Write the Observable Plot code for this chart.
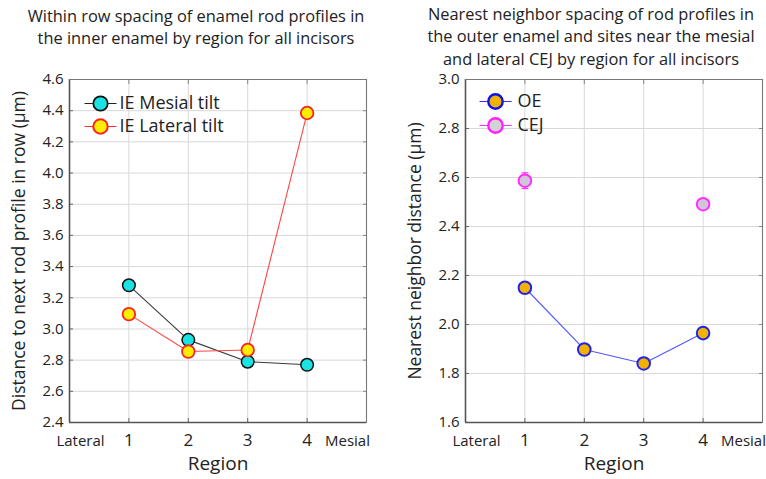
<!DOCTYPE html>
<html>
<head>
<meta charset="utf-8">
<script src="https://cdn.jsdelivr.net/npm/d3@7"></script>
<script src="https://cdn.jsdelivr.net/npm/@observablehq/plot@0.6"></script>
<style>
  body { margin: 0; background: #fff; font-family: "Open Sans", "Noto Sans", sans-serif; }
  #wrap { position: relative; width: 766px; height: 479px; overflow: hidden; }
  .title { position: absolute; text-align: center; font-size: 16.4px; line-height: 22.3px; color: #222; white-space: nowrap; }
  .panel { position: absolute; top: 0; }
</style>
</head>
<body>
<div id="wrap">
  <div class="title" id="t1" style="left:0px; width:392px; top:5px;"></div>
  <div class="title" id="t2" style="left:392px; width:398px; top:3px;"></div>
  <div class="panel" id="p1" style="left:0px;"></div>
  <div class="panel" id="p2" style="left:383px;"></div>
</div>
<script>
// ---------- data ----------
const regions = [1, 2, 3, 4];
const endLabels = ["Lateral", "Mesial"];

const ieMesialTilt  = [3.28, 2.93, 2.79, 2.77];
const ieLateralTilt = [3.095, 2.855, 2.865, 4.385];

const oeValues  = [2.15, 1.898, 1.841, 1.965];
const cejRegions = [1, 4];
const cejValues  = [2.587, 2.491];
const cejErr     = [0.032, 0.008];

const leftTicks  = [2.4, 2.6, 2.8, 3.0, 3.2, 3.4, 3.6, 3.8, 4.0, 4.2, 4.4, 4.6];
const rightTicks = [1.6, 1.8, 2.0, 2.2, 2.4, 2.6, 2.8, 3.0];

const title1 = ["Within row spacing of enamel rod profiles in", "the inner enamel by region for all incisors"];
const title2 = ["Nearest neighbor spacing of rod profiles in", "the outer enamel and sites near the mesial", "and lateral CEJ by region for all incisors"];
const yLabel1 = "Distance to next rod profile in row (\u00b5m)";
const yLabel2 = "Nearest neighbor distance (\u00b5m)";
const xLabel = "Region";
const legend1 = ["IE Mesial tilt", "IE Lateral tilt"];
const legend2 = ["OE", "CEJ"];

document.getElementById("t1").innerHTML = title1.join("<br>");
document.getElementById("t2").innerHTML = title2.join("<br>");

// ---------- helpers ----------
const hline = (half) => ({ draw(ctx) { ctx.moveTo(-half, 0); ctx.lineTo(half, 0); } });

const tableFrom = (xs, ys, name) => xs.map((x, i) => ({ region: x, value: ys[i], series: name }));

function decorations(ticks, yLab, ml) {
  return [
    Plot.gridX(regions, { stroke: "#d8d8d8", strokeOpacity: 1, strokeWidth: 1 }),
    Plot.gridY(ticks, { stroke: "#d8d8d8", strokeOpacity: 1, strokeWidth: 1 }),
    Plot.axisY(ticks, { tickSize: 0, tickPadding: 6, fontSize: 15, tickFormat: d3.format(".1f"), label: null, fill: "#222" }),
    Plot.axisY(ticks, { anchor: "left", tickSize: -4, tickFormat: () => "", label: null, stroke: "#666" }),
    Plot.axisY(ticks, { anchor: "right", tickSize: -4, tickFormat: () => "", label: null, stroke: "#888" }),
    Plot.axisX(regions, { tickSize: 0, tickPadding: 11, fontSize: 17, label: null, fill: "#222" }),
    Plot.axisX(regions, { anchor: "bottom", tickSize: -4, tickFormat: () => "", label: null, stroke: "#666" }),
    Plot.axisX(regions, { anchor: "top", tickSize: -4, tickFormat: () => "", label: null, stroke: "#888" }),
    Plot.ruleX([0], { stroke: "#555", strokeWidth: 1.6 }),
    Plot.ruleY([ticks[0]], { stroke: "#555", strokeWidth: 1.6 }),
    Plot.ruleX([5], { stroke: "#777", strokeWidth: 1.1 }),
    Plot.ruleY([ticks[ticks.length - 1]], { stroke: "#777", strokeWidth: 1.1 }),
    Plot.text([endLabels[0]], { text: d => d, frameAnchor: "bottom-left", dx: 11, dy: 23, fontSize: 15, textAnchor: "middle", fill: "#222" }),
    Plot.text([endLabels[1]], { text: d => d, frameAnchor: "bottom-right", dx: -19, dy: 23, fontSize: 15, textAnchor: "middle", fill: "#222" }),
    Plot.text([xLabel], { text: d => d, frameAnchor: "bottom", dy: 47, fontSize: 19, fill: "#222" }),
    Plot.text([yLab], { text: d => d, frameAnchor: "left", dx: -ml, rotate: -90, textAnchor: "middle", fontSize: 17.5, fill: "#222" })
  ];
}

// ---------- left panel ----------
const mesial = tableFrom(regions, ieMesialTilt, legend1[0]);
const lateral = tableFrom(regions, ieLateralTilt, legend1[1]);

const p1 = Plot.plot({
  width: 383, height: 479,
  marginLeft: 69, marginRight: 17, marginTop: 79, marginBottom: 57,
  style: { fontFamily: "Open Sans, Noto Sans, sans-serif", background: "transparent", overflow: "visible" },
  x: { domain: [0, 5], axis: null },
  y: { domain: [2.4, 4.6], axis: null },
  marks: [
    ...decorations(leftTicks, yLabel1, 50),
    Plot.line(mesial, { x: "region", y: "value", stroke: "#3a3a3a", strokeWidth: 1.1 }),
    Plot.line(lateral, { x: "region", y: "value", stroke: "#ff4545", strokeWidth: 1.1 }),
    Plot.dot(mesial, { x: "region", y: "value", r: 6.3, fill: "#19e3e3", stroke: "#111", strokeWidth: 1.5 }),
    Plot.dot(lateral, { x: "region", y: "value", r: 6.3, fill: "#ffee00", stroke: "#ff2020", strokeWidth: 1.8 }),
    // legend
    Plot.dot([legend1[0]], { frameAnchor: "top-left", dx: 31, dy: 24, symbol: hline(16), stroke: "#222", strokeWidth: 1.2 }),
    Plot.dot([legend1[0]], { frameAnchor: "top-left", dx: 31, dy: 24, r: 7.2, fill: "#19e3e3", stroke: "#111", strokeWidth: 1.8 }),
    Plot.text([legend1[0]], { text: d => d, frameAnchor: "top-left", dx: 50, dy: 24, textAnchor: "start", lineAnchor: "middle", fontSize: 18, fill: "#222" }),
    Plot.dot([legend1[1]], { frameAnchor: "top-left", dx: 31, dy: 47, symbol: hline(16), stroke: "#ff3030", strokeWidth: 1.2 }),
    Plot.dot([legend1[1]], { frameAnchor: "top-left", dx: 31, dy: 47, r: 7.2, fill: "#ffee00", stroke: "#ff2020", strokeWidth: 2 }),
    Plot.text([legend1[1]], { text: d => d, frameAnchor: "top-left", dx: 50, dy: 47, textAnchor: "start", lineAnchor: "middle", fontSize: 18, fill: "#222" })
  ]
});
document.getElementById("p1").append(p1);

// ---------- right panel ----------
const oe = tableFrom(regions, oeValues, legend2[0]);
const cej = cejRegions.map((x, i) => ({ region: x, value: cejValues[i], lo: cejValues[i] - cejErr[i], hi: cejValues[i] + cejErr[i] }));

const p2 = Plot.plot({
  width: 383, height: 479,
  marginLeft: 82, marginRight: 4, marginTop: 79, marginBottom: 57,
  style: { fontFamily: "Open Sans, Noto Sans, sans-serif", background: "transparent", overflow: "visible" },
  x: { domain: [0, 5], axis: null },
  y: { domain: [1.6, 3.0], axis: null },
  marks: [
    ...decorations(rightTicks, yLabel2, 50),
    Plot.line(oe, { x: "region", y: "value", stroke: "#5555ff", strokeWidth: 1.1 }),
    Plot.ruleX(cej, { x: "region", y1: "lo", y2: "hi", stroke: "#ff33ff", strokeWidth: 1.2 }),
    Plot.dot(cej, { x: "region", y: "lo", symbol: hline(3.5), stroke: "#ff33ff", strokeWidth: 1.2 }),
    Plot.dot(cej, { x: "region", y: "hi", symbol: hline(3.5), stroke: "#ff33ff", strokeWidth: 1.2 }),
    Plot.dot(oe, { x: "region", y: "value", r: 6.3, fill: "#f2b200", stroke: "#2222ee", strokeWidth: 2 }),
    Plot.dot(cej, { x: "region", y: "value", r: 6.3, fill: "#cfc6d8", stroke: "#ff2dff", strokeWidth: 2 }),
    // legend
    Plot.dot([legend2[0]], { frameAnchor: "top-left", dx: 30, dy: 22, symbol: hline(16), stroke: "#3333ff", strokeWidth: 1.2 }),
    Plot.dot([legend2[0]], { frameAnchor: "top-left", dx: 30, dy: 22, r: 7.2, fill: "#f2b200", stroke: "#1111ee", strokeWidth: 2.4 }),
    Plot.text([legend2[0]], { text: d => d, frameAnchor: "top-left", dx: 52, dy: 22, textAnchor: "start", lineAnchor: "middle", fontSize: 18, fill: "#222" }),
    Plot.dot([legend2[1]], { frameAnchor: "top-left", dx: 30, dy: 46, symbol: hline(16), stroke: "#ff33ff", strokeWidth: 1.2 }),
    Plot.dot([legend2[1]], { frameAnchor: "top-left", dx: 30, dy: 46, r: 7.2, fill: "#d3d3d3", stroke: "#ff22ff", strokeWidth: 2.4 }),
    Plot.text([legend2[1]], { text: d => d, frameAnchor: "top-left", dx: 52, dy: 46, textAnchor: "start", lineAnchor: "middle", fontSize: 18, fill: "#222" })
  ]
});
document.getElementById("p2").append(p2);
</script>
</body>
</html>
